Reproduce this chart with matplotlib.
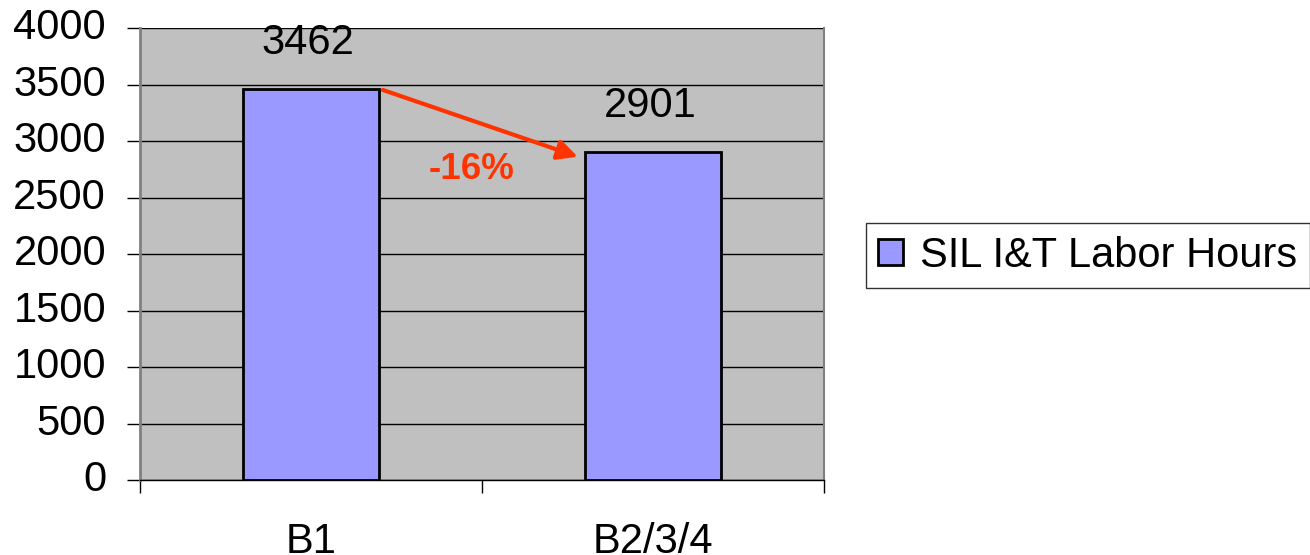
import numpy as np
import matplotlib.pyplot as plt

categories = ["B1", "B2/3/4"]
hours = [3462, 2901]
series_label = "SIL I&T Labor Hours"
change_label = "-16%"

plt.rcParams['font.family'] = ['Liberation Sans', 'DejaVu Sans']

fig = plt.figure(figsize=(13.1, 5.55), dpi=100)
ax = fig.add_axes([0.1069, 0.1351, 0.5221, 0.8144])

x = np.arange(len(categories))
bars = ax.bar(x, hours, width=0.4, color='#9999FF', edgecolor='black',
              linewidth=2, label=series_label, zorder=3)

ax.set_facecolor('#C0C0C0')
ax.set_xlim(-0.5, len(categories) - 0.5)
ax.set_ylim(0, 4000)
ax.set_yticks(np.arange(0, 4001, 500))
ax.yaxis.grid(True, color='black', linewidth=1, zorder=1)
ax.set_axisbelow(True)

# category labels without ticks, separators as minor ticks
ax.set_xticks(x)
ax.set_xticklabels(categories)
ax.set_xticks(np.arange(-0.5, len(categories), 1.0), minor=True)
ax.tick_params(axis='x', which='major', length=0, pad=30.5, labelsize=30)
ax.tick_params(axis='x', which='minor', length=9, width=1, color='black')
ax.tick_params(axis='y', length=9.5, width=1, labelsize=30, pad=15)
for lbl in ax.get_yticklabels():
    lbl.set_verticalalignment('center')

ax.spines['bottom'].set_color('black')
ax.spines['bottom'].set_linewidth(1)
ax.spines['left'].set_color('#808080')
ax.spines['left'].set_linewidth(2)
ax.spines['right'].set_color('#808080')
ax.spines['right'].set_linewidth(1.5)
ax.spines['top'].set_visible(False)

for xi, v in zip(x, hours):
    ax.annotate(str(v), (xi, v), xytext=(-2, 33), textcoords='offset points',
                ha='center', va='center', fontsize=30)

# arrow from bar 1 top-right to bar 2 top-left
ax.annotate('', xy=(x[1] - 0.22, hours[1] - 40), xytext=(x[0] + 0.21, hours[0] - 10),
            arrowprops=dict(arrowstyle='-|>', color='#FF3300', lw=3,
                            mutation_scale=30, shrinkA=0, shrinkB=0), zorder=4)
ax.text(0.47, 2750, change_label, color='#FF3300', fontsize=26.5, fontweight='bold',
        ha='center', va='center', zorder=4)

leg = fig.legend(loc='center left', bbox_to_anchor=(0.661, 0.539), fontsize=30,
                 frameon=True, fancybox=False, edgecolor='black',
                 handlelength=0.6, handleheight=0.6, handletextpad=0.4,
                 borderpad=0.3, borderaxespad=0)
leg.get_frame().set_linewidth(1)

fig.savefig("out.png", dpi=100)
